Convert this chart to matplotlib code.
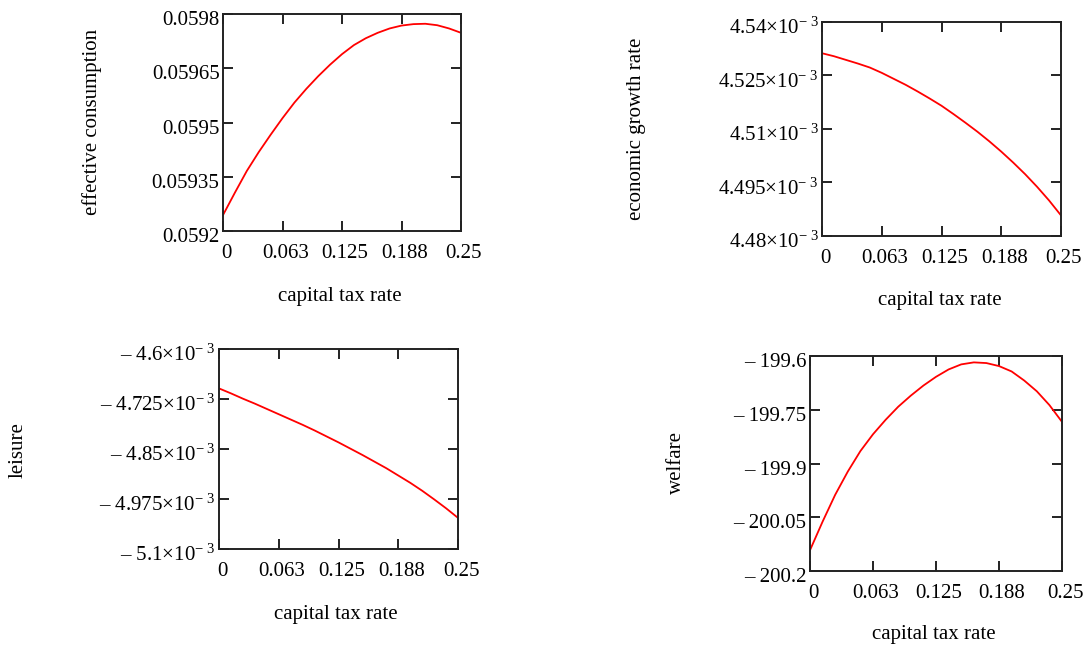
import matplotlib
matplotlib.use('Agg')
import matplotlib.pyplot as plt
import matplotlib.transforms as mtransforms

plt.rcParams['font.family'] = ['Liberation Serif', 'DejaVu Serif']
plt.rcParams['mathtext.fontset'] = 'custom'
plt.rcParams['mathtext.rm'] = 'Liberation Serif'
plt.rcParams['mathtext.it'] = 'Liberation Serif:italic'
plt.rcParams['font.size'] = 15

# values, one every 0.0125 of tax rate
tax_rate = [0.0, 0.0125, 0.025, 0.0375, 0.05, 0.0625, 0.075, 0.0875, 0.1, 0.1125,
            0.125, 0.1375, 0.15, 0.1625, 0.175, 0.1875, 0.2, 0.2125, 0.225, 0.2375, 0.25]

consumption = [0.059244, 0.059306, 0.059366, 0.059418, 0.059466, 0.059512, 0.059555,
               0.059593, 0.059628, 0.059660, 0.059689, 0.059714, 0.059733, 0.059748,
               0.059760, 0.059768, 0.059772, 0.059773, 0.059769, 0.059760, 0.059748]

growth = [4.531242e-3, 4.530404e-3, 4.529379e-3, 4.528354e-3, 4.527236e-3, 4.525745e-3,
          4.524068e-3, 4.522391e-3, 4.520528e-3, 4.518571e-3, 4.516522e-3, 4.514193e-3,
          4.511770e-3, 4.509255e-3, 4.506553e-3, 4.503665e-3, 4.500590e-3, 4.497329e-3,
          4.493789e-3, 4.489969e-3, 4.485776e-3]

leisure = [-4.698510e-3, -4.710927e-3, -4.724172e-3, -4.736589e-3, -4.749834e-3,
           -4.763079e-3, -4.776324e-3, -4.789569e-3, -4.803642e-3, -4.818543e-3,
           -4.833444e-3, -4.849172e-3, -4.864901e-3, -4.881457e-3, -4.898013e-3,
           -4.916225e-3, -4.934437e-3, -4.954305e-3, -4.975828e-3, -4.998179e-3,
           -5.022185e-3]

welfare = [-200.1419, -200.0622, -199.9872, -199.9225, -199.8653, -199.8184, -199.7781,
           -199.7416, -199.7106, -199.6825, -199.6581, -199.6375, -199.6234, -199.6178,
           -199.6197, -199.6281, -199.6431, -199.6684, -199.6984, -199.7369, -199.7838]

x_ticks = [0, 0.0625, 0.125, 0.1875, 0.25]
x_tick_labels = ['0', '0.063', '0.125', '0.188', '0.25']

cons_ticks = [0.0592, 0.05935, 0.0595, 0.05965, 0.0598]
cons_labels = ['0.0592', '0.05935', '0.0595', '0.05965', '0.0598']

growth_ticks = [4.48e-3, 4.495e-3, 4.51e-3, 4.525e-3, 4.54e-3]
growth_labels = ['4.48', '4.495', '4.51', '4.525', '4.54']

leisure_ticks = [-5.1e-3, -4.975e-3, -4.85e-3, -4.725e-3, -4.6e-3]
leisure_labels = ['\u2013 5.1', '\u2013 4.975', '\u2013 4.85', '\u2013 4.725', '\u2013 4.6']

welfare_ticks = [-200.2, -200.05, -199.9, -199.75, -199.6]
welfare_labels = ['\u2013 200.2', '\u2013 200.05', '\u2013 199.9', '\u2013 199.75', '\u2013 199.6']

W, H = 1092, 649
fig = plt.figure(figsize=(W / 100, H / 100), dpi=100)


def box(left, top, right, bottom):
    return [left / W, 1 - bottom / H, (right - left) / W, (bottom - top) / H]


def sci(lbls):
    return [s + '\u00d710$^{-\\ 3}$' for s in lbls]


def panel(rect, y, yticks, ylabels, ylabel, ylab_xy, xlab_xy):
    ax = fig.add_axes(box(*rect))
    ax.plot(tax_rate, y, color='#ff0000', lw=1.3)
    ax.set_xlim(0, 0.25)
    ax.set_ylim(yticks[0], yticks[-1])
    ax.set_xticks(x_ticks, x_tick_labels)
    ax.set_yticks(yticks, ylabels)
    ax.tick_params(direction='in', length=7.5, width=1.4, top=True, right=True,
                   colors='#222222', labelcolor='black')
    ax.tick_params(axis='x', pad=9.5)
    ax.tick_params(axis='y', pad=2.5)
    for s in ax.spines.values():
        s.set_linewidth(1.4)
        s.set_color('#222222')
    xshift = mtransforms.ScaledTranslation(0.03, 0, fig.dpi_scale_trans)
    for lab in ax.get_xticklabels():
        lab.set_transform(lab.get_transform() + xshift)
    yshift = mtransforms.ScaledTranslation(0, -0.04, fig.dpi_scale_trans)
    for lab in ax.get_yticklabels():
        lab.set_transform(lab.get_transform() + yshift)
    fig.text(ylab_xy[0] / W, 1 - ylab_xy[1] / H, ylabel, rotation=90,
             ha='center', va='center')
    fig.text(xlab_xy[0] / W, 1 - xlab_xy[1] / H, 'capital tax rate',
             ha='center', va='center')
    return ax


panel((223, 14, 461, 231), consumption, cons_ticks, cons_labels,
      'effective consumption', (92, 122), (340, 297))
panel((822, 22, 1061, 236), growth, growth_ticks, sci(growth_labels),
      'economic growth rate', (637, 129), (940, 300))
panel((219, 349, 458, 549), leisure, leisure_ticks, sci(leisure_labels),
      'leisure', (18, 450), (336, 615))
panel((810, 356, 1062, 571), welfare, welfare_ticks, welfare_labels,
      'welfare', (676, 463), (934, 635))

fig.savefig('out.png', dpi=100)
